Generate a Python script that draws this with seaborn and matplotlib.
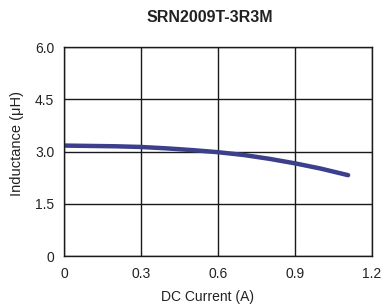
import matplotlib

matplotlib.use("Agg")
import matplotlib.pyplot as plt
import pandas as pd
import seaborn as sns

# Datos (corriente DC en A, inductancia en uH)
current = [0.0, 0.1, 0.2, 0.3, 0.4, 0.5, 0.6, 0.7, 0.8, 0.9, 1.0, 1.107]
inductance = [3.17, 3.16, 3.15, 3.13, 3.09, 3.04, 2.98, 2.90, 2.79, 2.66, 2.51, 2.32]
x_ticks = [0, 0.3, 0.6, 0.9, 1.2]
x_labels = ["0", "0.3", "0.6", "0.9", "1.2"]
y_ticks = [0, 1.5, 3.0, 4.5, 6.0]
y_labels = ["0", "1.5", "3.0", "4.5", "6.0"]

sns.set_theme(style="white")
plt.rcParams["font.family"] = ["Liberation Sans", "DejaVu Sans"]

df = pd.DataFrame({"current": current, "inductance": inductance})

fig = plt.figure(figsize=(3.83, 3.07), dpi=100)
ax = fig.add_axes([64 / 383, 1 - 256 / 307, 308 / 383, 209 / 307])

sns.lineplot(data=df, x="current", y="inductance", color="#3b3f8c", linewidth=3.2, ax=ax)

ax.set_xlim(0, 1.2)
ax.set_ylim(0, 6.0)
ax.set_xticks(x_ticks, x_labels)
ax.set_yticks(y_ticks, y_labels)
ax.grid(True, color="#1a1a1a", linewidth=1.0)
ax.set_axisbelow(True)
for side in ax.spines.values():
    side.set_color("#1a1a1a")
    side.set_linewidth(1.0)
ax.tick_params(axis="both", length=0, labelsize=10, colors="#222222")
ax.tick_params(axis="y", pad=7)
ax.tick_params(axis="x", pad=8)

ax.set_xlabel("DC Current (A)", fontsize=10, color="#222222")
ax.set_ylabel("Inductance (\u03bcH)", fontsize=10.5, color="#222222")
ax.xaxis.set_label_coords(0.466, -0.196)
ax.yaxis.set_label_coords(-0.153, 0.54)
for lab in (ax.xaxis.label, ax.yaxis.label):
    lab.set_va("center")
fig.text(210 / 383, 1 - 18 / 307, "SRN2009T-3R3M", ha="center", va="center",
         fontsize=11.5, fontweight="bold", color="#222222")

fig.savefig("out.png", dpi=100)
